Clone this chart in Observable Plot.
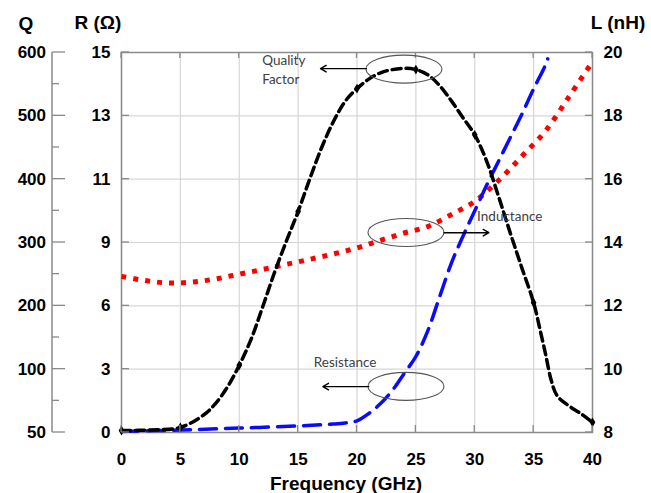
<!DOCTYPE html>
<html><head><meta charset="utf-8">
<script src="https://cdn.jsdelivr.net/npm/d3@7"></script>
<script src="https://cdn.jsdelivr.net/npm/@observablehq/plot@0.6"></script>
<style>html,body{margin:0;padding:0;background:#fff;} svg{display:block}</style>
</head><body><div id="chart"></div>
<script>
// Axis tick labels (each axis has 7 evenly spaced labels on the same gridlines)
const frequencyTicks = [0, 5, 10, 15, 20, 25, 30, 35, 40];
const qTicks = [50, 100, 200, 300, 400, 500, 600];
const rTicks = [0, 3, 6, 9, 11, 13, 15];
const lTicks = [8, 10, 12, 14, 16, 18, 20];

// Quality factor Q vs frequency (GHz)
const qFreq = [0, 2.5, 5, 7, 8, 9, 10, 11, 12, 13, 14, 15, 16, 17, 18, 19, 20, 21, 22, 23, 24, 25, 26, 27, 28, 29, 30, 31, 32, 33, 34, 35, 35.5, 36, 36.5, 37, 38, 39, 40];
const qValues = [51.5, 52, 54, 64, 73, 86, 106, 147, 199, 253, 302, 349, 401, 450, 491, 523, 543, 558, 568, 573, 575, 573, 565, 548, 524, 497, 470, 429, 374, 316, 260, 205, 166, 125, 91, 79, 71, 65, 58];

// Resistance R (Ohm) vs frequency (GHz)
const rFreq = [0, 5, 10, 15, 18, 19, 20, 21, 22, 23, 24, 25, 26, 27, 28, 29, 30, 31, 32, 33, 34, 35, 36, 36.2];
const rValues = [0.05, 0.12, 0.21, 0.31, 0.4, 0.45, 0.55, 0.9, 1.37, 1.99, 2.79, 3.6, 4.8, 6.4, 8.0, 9.2, 10.0, 10.8, 11.55, 12.3, 13.05, 13.85, 14.6, 14.8];

// Inductance L (nH) vs frequency (GHz)
const lFreq = [0, 2, 4, 6, 8, 10, 12, 14, 16, 18, 20, 22, 24, 26, 28, 30, 32, 34, 36, 38, 39.8];
const lValues = [12.93, 12.8, 12.72, 12.75, 12.85, 13.0, 13.15, 13.31, 13.47, 13.64, 13.83, 14.07, 14.3, 14.5, 14.88, 15.3, 15.95, 16.72, 17.52, 18.6, 19.6];

// Annotations (in frequency / L-axis coordinates)
const noteLabels = ["Quality", "Factor", "Inductance", "Resistance"];
const noteX = [11.95, 11.95, 30.2, 16.33];
const noteY = [19.75, 19.15, 14.82, 10.22];
const ellipseX = [24.03, 24.2, 24.2];
const ellipseY = [19.46, 14.3, 9.44];
const arrowX1 = [20.8, 27.4, 21.0];
const arrowX2 = [16.9, 31.2, 17.1];
const arrowY = [19.49, 14.31, 9.45];

// Map the left-hand axes onto the (uniform) L scale, gridline by gridline
const qToL = d3.scaleLinear().domain(qTicks).range(lTicks);
const rToL = d3.scaleLinear().domain(rTicks).range(lTicks);

const qData = qFreq.map((f, i) => ({f, v: qToL(qValues[i])}));
const qMarkers = qData.filter(d => frequencyTicks.includes(d.f));
const rData = rFreq.map((f, i) => ({f, v: rToL(rValues[i])}));
const lData = lFreq.map((f, i) => ({f, v: lValues[i]}));
const notes = noteLabels.map((t, i) => ({t, x: noteX[i], y: noteY[i]}));
const arrows = arrowX1.map((x1, i) => ({x1, x2: arrowX2[i], y: arrowY[i]}));

const FONT = "'Liberation Sans', Arial, sans-serif";

function decorations(index, scales, values, dims) {
  const {x, y} = scales;
  const left = dims.marginLeft, right = dims.width - dims.marginRight;
  const top = dims.marginTop, bottom = dims.height - dims.marginBottom;
  const g = d3.create("svg:g");
  const tickColor = "#8a8a8a";
  // inward ticks on frame
  for (const f of frequencyTicks) {
    g.append("line").attr("x1", x(f)).attr("x2", x(f)).attr("y1", bottom).attr("y2", bottom - 7).attr("stroke", tickColor).attr("stroke-width", 1.3);
    g.append("line").attr("x1", x(f)).attr("x2", x(f)).attr("y1", top).attr("y2", top + 6).attr("stroke", tickColor).attr("stroke-width", 1.3);
  }
  for (const l of lTicks) {
    g.append("line").attr("x1", left).attr("x2", left + 8).attr("y1", y(l)).attr("y2", y(l)).attr("stroke", tickColor).attr("stroke-width", 1.3);
    g.append("line").attr("x1", right).attr("x2", right - 7).attr("y1", y(l)).attr("y2", y(l)).attr("stroke", tickColor).attr("stroke-width", 1.3);
  }
  // Q axis (outer left)
  const qx = 52;
  g.append("line").attr("x1", qx).attr("x2", qx).attr("y1", top).attr("y2", bottom).attr("stroke", tickColor).attr("stroke-width", 1.5);
  qTicks.forEach((q, i) => {
    const yy = y(qToL(q));
    g.append("line").attr("x1", qx).attr("x2", qx + 13).attr("y1", yy).attr("y2", yy).attr("stroke", tickColor).attr("stroke-width", 1.3);
    g.append("text").attr("x", qx - 6).attr("y", yy).attr("dy", "0.36em").attr("text-anchor", "end")
      .attr("font-family", FONT).attr("font-size", 17).attr("font-weight", "bold").attr("fill", "#000").text(q);
    if (i < qTicks.length - 1) {
      const ym = y((qToL(q) + qToL(qTicks[i + 1])) / 2);
      g.append("line").attr("x1", qx).attr("x2", qx + 7).attr("y1", ym).attr("y2", ym).attr("stroke", tickColor).attr("stroke-width", 1.3);
    }
  });
  // axis titles
  const title = (tx, ty, s, anchor = "middle") => g.append("text").attr("x", tx).attr("y", ty).attr("text-anchor", anchor)
    .attr("font-family", FONT).attr("font-size", 19).attr("font-weight", "bold").attr("fill", "#000").text(s);
  title(26, 30, "Q");
  title(98, 29, "R (Ω)");
  title(618, 29, "L (nH)");
  title(346, 490, "Frequency (GHz)");
  // annotation ellipses
  ellipseX.forEach((ex, i) => {
    g.append("ellipse").attr("cx", x(ex)).attr("cy", y(ellipseY[i])).attr("rx", 38).attr("ry", 14)
      .attr("fill", "none").attr("stroke", "#555").attr("stroke-width", 1.1);
  });
  return g.node();
}

const chart = Plot.plot({
  width: 651,
  height: 493,
  marginLeft: 121,
  marginRight: 59,
  marginTop: 52,
  marginBottom: 61,
  x: {domain: [0, 40]},
  y: {domain: [8, 20]},
  style: {fontFamily: FONT, fontSize: "17px", fontWeight: "bold", color: "#000", background: "#fff", overflow: "visible"},
  marks: [
    Plot.gridX(frequencyTicks, {stroke: "#d6d6d6", strokeOpacity: 1, strokeWidth: 1.2}),
    Plot.gridY(lTicks, {stroke: "#d6d6d6", strokeOpacity: 1, strokeWidth: 1.2}),
    Plot.frame({stroke: "#8a8a8a", strokeWidth: 1.5}),
    Plot.axisX(frequencyTicks, {tickSize: 0, tickPadding: 20, label: null}),
    Plot.axisY(lTicks, {anchor: "left", tickSize: 0, tickPadding: 11, label: null, tickFormat: d => rTicks[lTicks.indexOf(d)]}),
    Plot.axisY(lTicks, {anchor: "right", tickSize: 0, tickPadding: 11, label: null}),
    Plot.line(lData, {x: "f", y: "v", stroke: "#ff0000", strokeWidth: 5, strokeDasharray: "5,7", strokeLinecap: "butt", curve: "catmull-rom"}),
    Plot.line(rData, {x: "f", y: "v", stroke: "#0a0aff", strokeWidth: 3.5, strokeDasharray: "17,9", curve: "catmull-rom"}),
    Plot.line(qData, {x: "f", y: "v", stroke: "#000", strokeWidth: 3.5, strokeDasharray: "9,5", curve: "catmull-rom"}),
    Plot.dot(qMarkers, {x: "f", y: "v", symbol: "diamond", r: 3, fill: "#000"}),
    decorations,
    Plot.arrow(arrows, {x1: "x1", y1: "y", x2: "x2", y2: "y", stroke: "#000", strokeWidth: 1.4, headLength: 7}),
    Plot.text(notes, {x: "x", y: "y", text: "t", textAnchor: "start", lineAnchor: "middle", fontFamily: "Lato, 'Open Sans', sans-serif", fontSize: 13.5, fontWeight: "normal", fill: "#404040"})
  ]
});
document.getElementById("chart").appendChild(chart);
</script>
</body></html>
